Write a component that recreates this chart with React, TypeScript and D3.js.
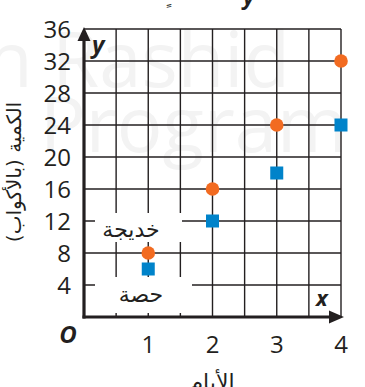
import React from "react";
import * as d3 from "d3";

const days = [1, 2, 3, 4];
const khadija = [8, 16, 24, 32];
const hessa = [6, 12, 18, 24];
const yTicks = [4, 8, 12, 16, 20, 24, 28, 32, 36];
const xTicks = [1, 2, 3, 4];
const seriesNames = ["خديجة", "حصة"];

const W = 365;
const H = 387;
const ORANGE = "#f26b21";
const BLUE = "#0083ca";
const INK = "#231f20";

export default function App() {
  const x = d3.scaleLinear().domain([0, 4]).range([84, 341]);
  const y = d3.scaleLinear().domain([0, 36]).range([317, 29]);
  const vGrid = d3.range(0.5, 4.01, 0.5);
  const hGrid = d3.range(4, 36.01, 4);
  const numFont = "'Open Sans', 'Lato', sans-serif";
  const arFont = "'DejaVu Sans', sans-serif";

  return (
    <svg
      width={W}
      height={H}
      style={{ position: "fixed", left: 0, top: 0, background: "#fff" }}
    >
      {/* watermark */}
      <g fill="#f3f3f3" fontFamily="'Open Sans', sans-serif" fontSize={76}>
        <text x={-14} y={87}>n Rashid</text>
        <text x={40} y={152}>Program</text>
      </g>

      {/* cut-off title */}
      <text x={165} y={4} fontFamily={arFont} fontSize={16} fill={INK} textAnchor="middle">ٍّ</text>
      <text x={243} y={5} fontFamily={numFont} fontStyle="italic" fontWeight={700} fontSize={22} fill={INK}>y</text>

      {/* grid */}
      <g stroke={INK} strokeWidth={1.4}>
        {vGrid.map((d) => (
          <line key={"v" + d} x1={x(d)} x2={x(d)} y1={y(0)} y2={y(36)} />
        ))}
        {hGrid.map((d) => (
          <line key={"h" + d} x1={x(0)} x2={x(4)} y1={y(d)} y2={y(d)} />
        ))}
      </g>

      {/* label boxes */}
      <rect x={95} y={213} width={87} height={29} fill="#fff" />
      <rect x={95} y={277} width={97} height={36} fill="#fff" />
      <text x={131} y={237} textAnchor="middle" fontFamily={arFont} fontSize={22} fill={INK}>
        {seriesNames[0]}
      </text>
      <text x={141} y={302} textAnchor="middle" fontFamily={arFont} fontSize={22} fill={INK}>
        {seriesNames[1]}
      </text>

      {/* axes */}
      <line x1={x(0)} x2={x(0)} y1={y(0) + 1.5} y2={38} stroke={INK} strokeWidth={3.2} />
      <path d={`M ${x(0) - 6.5} 41 L ${x(0)} 27 L ${x(0) + 6.5} 41 Z`} fill={INK} />
      <line x1={x(0) - 1.5} x2={332} y1={y(0)} y2={y(0)} stroke={INK} strokeWidth={3.2} />
      <path d={`M 329 ${y(0) - 6.5} L 344 ${y(0)} L 329 ${y(0) + 6.5} Z`} fill={INK} />

      {/* axis letters */}
      <text x={92} y={53} fontFamily={numFont} fontStyle="italic" fontWeight={700} fontSize={24} fill={INK}>y</text>
      <text x={316} y={306} fontFamily={numFont} fontStyle="italic" fontWeight={700} fontSize={22} fill={INK}>x</text>
      <text x={68} y={343} textAnchor="middle" fontFamily={numFont} fontStyle="italic" fontWeight={700} fontSize={24} fill={INK}>O</text>

      {/* tick labels */}
      <g fontFamily={numFont} fontSize={24} fill={INK}>
        {yTicks.map((d) => (
          <text key={"yt" + d} x={71} y={y(d) + 8.5} textAnchor="end">{d}</text>
        ))}
        {xTicks.map((d) => (
          <text key={"xt" + d} x={x(d)} y={353} textAnchor="middle">{d}</text>
        ))}
      </g>

      {/* axis titles */}
      <text
        transform={`translate(21, 172) rotate(-90)`}
        textAnchor="middle"
        fontFamily={arFont}
        fontSize={20}
        fill={INK}
      >
        الكمية (بالأكواب)
      </text>
      <text x={212} y={390} textAnchor="middle" fontFamily={arFont} fontSize={22} fill={INK}>
        الأيام
      </text>

      {/* markers */}
      {days.map((d, i) => (
        <circle key={"k" + d} cx={x(d)} cy={y(khadija[i])} r={6.8} fill={ORANGE} />
      ))}
      {days.map((d, i) => (
        <rect key={"h" + d} x={x(d) - 6.5} y={y(hessa[i]) - 6.5} width={13} height={13} fill={BLUE} />
      ))}
    </svg>
  );
}
